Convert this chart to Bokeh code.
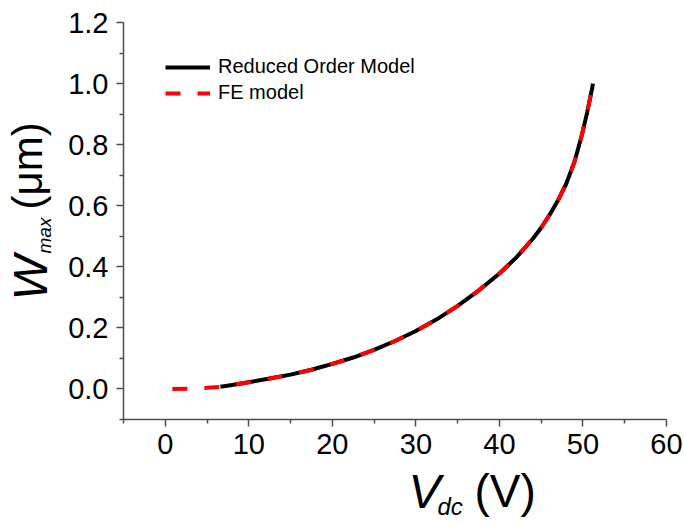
import math
from bokeh.plotting import figure
from bokeh.models import Label, Legend, LegendItem, FixedTicker, NumeralTickFormatter, Range1d, LinearAxis
from bokeh.embed import file_html
from bokeh.resources import INLINE

# --- data ---
rom_v = [6.6, 8.0, 10.0, 12.5, 15.0, 17.5, 20.0, 22.5, 25.0, 27.5, 30.0, 32.5, 35.0, 37.5, 40.0,
         42.0, 44.0, 45.0, 46.0, 47.0, 48.0, 49.0, 49.9, 50.5, 50.8, 51.1, 51.2]
rom_w = [0.007, 0.013, 0.022, 0.034, 0.047, 0.063, 0.082, 0.103, 0.128, 0.157, 0.190, 0.228, 0.272,
         0.322, 0.378, 0.430, 0.492, 0.528, 0.570, 0.617, 0.672, 0.745, 0.835, 0.905, 0.945, 0.985, 1.000]

fe_v = [0.85, 3.0, 5.0, 6.6, 8.0, 10.0, 12.5, 15.0, 17.5, 20.0, 22.5, 25.0, 27.5, 30.0, 32.5, 35.0,
        37.5, 40.0, 42.0, 44.0, 45.0, 46.0, 47.0, 48.0, 49.0, 49.9, 50.5, 50.8, 51.1]
fe_w = [0.000, 0.001, 0.004, 0.007, 0.013, 0.022, 0.034, 0.047, 0.063, 0.082, 0.103, 0.128, 0.157,
        0.190, 0.228, 0.272, 0.322, 0.378, 0.430, 0.492, 0.528, 0.570, 0.617, 0.672, 0.745, 0.835,
        0.905, 0.945, 0.985]

x_ticks = [0, 10, 20, 30, 40, 50, 60]
x_minor = [-5, 5, 15, 25, 35, 45, 55]
y_ticks = [0.0, 0.2, 0.4, 0.6, 0.8, 1.0, 1.2]
y_minor = [-0.1, 0.1, 0.3, 0.5, 0.7, 0.9, 1.1]
x_bounds = (-5, 60)
y_bounds = (-0.1, 1.2)

series_names = ["Reduced Order Model", "FE model"]

FONT = "Liberation Sans"
AXIS_COLOR = "#4d4d4d"

W, H = 684, 522
# plotting area of the reference (pixels): left 123, right 666, top 22, bottom 419
L, R, T, B = 123.0, 666.0, 22.0, 419.0
sx = (R - L) / (x_bounds[1] - x_bounds[0])
sy = (B - T) / (y_bounds[1] - y_bounds[0])
xr = Range1d(x_bounds[0] - L / sx, x_bounds[1] + (W - R) / sx)
yr = Range1d(y_bounds[0] - (H - B) / sy, y_bounds[1] + T / sy)

p = figure(width=W, height=H, output_backend="svg", toolbar_location=None,
           x_range=xr, y_range=yr, x_axis_location=None, y_axis_location=None,
           min_border=0)
p.outline_line_color = None
p.grid.visible = False
p.background_fill_color = "white"
p.border_fill_color = "white"

r_rom = p.line(rom_v, rom_w, line_color="black", line_width=4, line_join="round")
r_fe = p.line(fe_v, fe_w, line_color="#ff0000", line_width=4, line_dash="15 17")

xa = LinearAxis(fixed_location=y_bounds[0], bounds=x_bounds,
                ticker=FixedTicker(ticks=x_ticks, minor_ticks=x_minor))
ya = LinearAxis(fixed_location=x_bounds[0], bounds=y_bounds,
                ticker=FixedTicker(ticks=y_ticks, minor_ticks=y_minor),
                formatter=NumeralTickFormatter(format="0.0"))
for ax in (xa, ya):
    ax.axis_line_color = AXIS_COLOR
    ax.axis_line_width = 1.5
    ax.major_tick_line_color = AXIS_COLOR
    ax.major_tick_line_width = 1.5
    ax.minor_tick_line_color = AXIS_COLOR
    ax.minor_tick_line_width = 1.5
    ax.major_tick_in = 0
    ax.major_tick_out = 7
    ax.minor_tick_in = 0
    ax.minor_tick_out = 4
    ax.major_label_text_font = FONT
    ax.major_label_text_font_size = "29px"
    ax.major_label_text_color = "black"
xa.major_label_standoff = 7
ya.major_label_standoff = 8
p.add_layout(xa, "below")
p.add_layout(ya, "left")

def dx(px):
    return x_bounds[0] + (px - L) / sx

def dy(py):
    return y_bounds[0] + (B - py) / sy

# axis titles with italic symbols and subscripts
def lab(px, py, text, size, italic=False, angle=0.0):
    p.add_layout(Label(x=dx(px), y=dy(py), text=text, text_font=FONT, text_font_size=size,
                       text_font_style="italic" if italic else "normal",
                       text_color="black", text_align="left", text_baseline="alphabetic",
                       angle=angle))

lab(408, 491, "V", "48px", italic=True)
lab(437, 506, "dc", "24px", italic=True)
lab(474, 490, "(V)", "46px")

rot = math.pi / 2
lab(30, 300, "W", "48px", italic=True, angle=rot)
lab(44, 253, "max", "19px", italic=True, angle=rot)
lab(27, 209, "(\u03bcm)", "42px", angle=rot)

legend = Legend(items=[LegendItem(label=series_names[0], renderers=[r_rom]),
                       LegendItem(label=series_names[1], renderers=[r_fe])],
                location=(165, H - 104), padding=0, margin=0, spacing=3,
                glyph_width=45, glyph_height=22, label_height=22, label_standoff=8,
                label_text_font=FONT, label_text_font_size="20px", label_text_color="black",
                border_line_color=None, background_fill_alpha=0)
p.add_layout(legend, "center")

open("out.html", "w").write(file_html(p, INLINE))
